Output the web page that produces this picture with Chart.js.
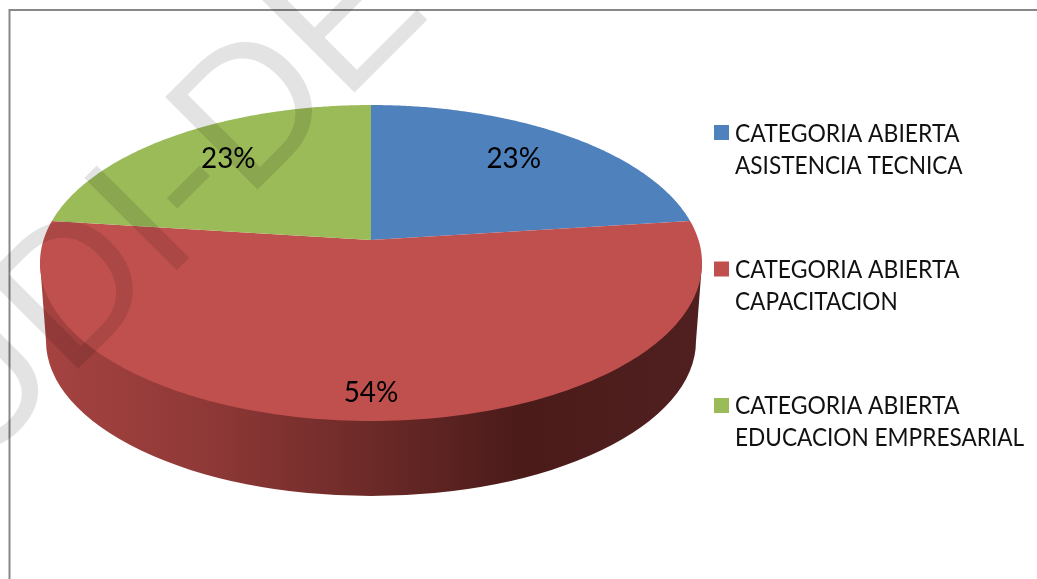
<!DOCTYPE html>
<html>
<head>
<meta charset="utf-8">
<style>
  html, body { margin: 0; padding: 0; background: #fff; overflow: hidden; }
  canvas { display: block; }
</style>
<script src="https://cdn.jsdelivr.net/npm/chart.js@4"></script>
</head>
<body>
<canvas id="pieChart" width="1037" height="579"></canvas>
<script>
// chart data
const categories = [
  ['CATEGORIA ABIERTA', 'ASISTENCIA TECNICA'],
  ['CATEGORIA ABIERTA', 'CAPACITACION'],
  ['CATEGORIA ABIERTA', 'EDUCACION EMPRESARIAL']
];
const percentages = [23, 54, 23];
const sliceColors = ['#4f81bd', '#c0504d', '#9bbb59'];

const watermarkText = 'UDI-DE';

// perspective of the top face
const apexX = 371, apexY = 240;
const spreadX = 327.5, spreadY = 154.65, tilt = 0.1456;

function project(angle, r) {
  const u = r * Math.cos(angle);
  const v = -r * Math.sin(angle);
  const w = 1 + tilt * v;
  return { x: apexX + spreadX * u / w, y: apexY - spreadY * v / w };
}

// arcs keep the library's angles, only the path goes through the projection
Chart.ArcElement.prototype.draw = function (ctx) {
  const steps = 160;
  ctx.save();
  ctx.beginPath();
  ctx.moveTo(apexX, apexY);
  for (let i = 0; i <= steps; i++) {
    const a = this.startAngle + (this.endAngle - this.startAngle) * i / steps;
    const p = project(a, 1);
    ctx.lineTo(p.x, p.y);
  }
  ctx.closePath();
  ctx.fillStyle = this.options.backgroundColor;
  ctx.fill();
  ctx.restore();
};

const framePlugin = {
  id: 'frame',
  beforeDraw(chart) {
    const ctx = chart.ctx;
    ctx.save();
    ctx.strokeStyle = '#888888';
    ctx.lineWidth = 2;
    ctx.beginPath();
    ctx.moveTo(9.5, 579);
    ctx.lineTo(9.5, 10);
    ctx.lineTo(1037, 10);
    ctx.stroke();
    ctx.restore();
  }
};

// side wall of the pie, only the red slice faces the front
const sidePlugin = {
  id: 'side',
  beforeDatasetsDraw(chart) {
    const ctx = chart.ctx;
    const grad = ctx.createLinearGradient(40, 0, 702, 0);
    grad.addColorStop(0, '#a64341');
    grad.addColorStop(0.25, '#8f3937');
    grad.addColorStop(0.5, '#6c2a28');
    grad.addColorStop(0.72, '#4b1b1a');
    grad.addColorStop(1, '#4f201f');
    ctx.save();
    ctx.beginPath();
    ctx.moveTo(40, 263);
    ctx.ellipse(371, 341, 325, 155, 0, Math.PI, 0, true);
    ctx.lineTo(702, 263);
    ctx.closePath();
    ctx.fillStyle = grad;
    ctx.fill();
    ctx.restore();
  }
};

const watermarkPlugin = {
  id: 'watermark',
  afterDatasetsDraw(chart) {
    const ctx = chart.ctx;
    ctx.save();
    ctx.font = '190px "Liberation Sans"';
    ctx.fillStyle = 'rgba(0,0,0,0.11)';
    ctx.textBaseline = 'alphabetic';
    // baseline runs up to the right, anchored at the foot of the last D
    const before = ctx.measureText('UDI-').width + 15;
    const c = Math.SQRT1_2;
    ctx.translate(257 - before * c, 190 + before * c);
    ctx.rotate(-Math.PI / 4);
    ctx.fillText(watermarkText, 0, 0);
    ctx.restore();
  }
};

// Lato is wider than the original face, squeeze it a little
function squeezedText(ctx, text, x, y, factor) {
  ctx.fillText(text, x, y, ctx.measureText(text).width * factor);
}

const textPlugin = {
  id: 'pieText',
  afterDraw(chart) {
    const ctx = chart.ctx;
    const arcs = chart.getDatasetMeta(0).data;
    const labelRadius = [0.71, 0.89, 0.71];
    ctx.save();
    ctx.fillStyle = '#000';
    ctx.textBaseline = 'middle';

    // percent labels
    ctx.font = '29px Lato';
    ctx.textAlign = 'center';
    arcs.forEach((arc, i) => {
      const p = project((arc.startAngle + arc.endAngle) / 2, labelRadius[i]);
      squeezedText(ctx, percentages[i] + '%', p.x, p.y - 5, 0.96);
    });

    // legend
    ctx.font = '25px Lato';
    ctx.textAlign = 'left';
    categories.forEach((lines, i) => {
      ctx.fillStyle = sliceColors[i];
      ctx.fillRect(714, 125 + i * 136.5, 15, 15);
      ctx.fillStyle = '#111';
      lines.forEach((line, j) => {
        squeezedText(ctx, line, 735, 134 + i * 136 + j * 32, j === 0 ? 0.918 : 0.905);
      });
    });
    ctx.restore();
  }
};

new Chart(document.getElementById('pieChart'), {
  type: 'pie',
  data: {
    labels: categories,
    datasets: [{
      data: percentages,
      backgroundColor: sliceColors,
      borderWidth: 0
    }]
  },
  options: {
    responsive: false,
    animation: false,
    plugins: {
      legend: { display: false },
      tooltip: { enabled: false }
    }
  },
  plugins: [framePlugin, sidePlugin, watermarkPlugin, textPlugin]
});
</script>
</body>
</html>
